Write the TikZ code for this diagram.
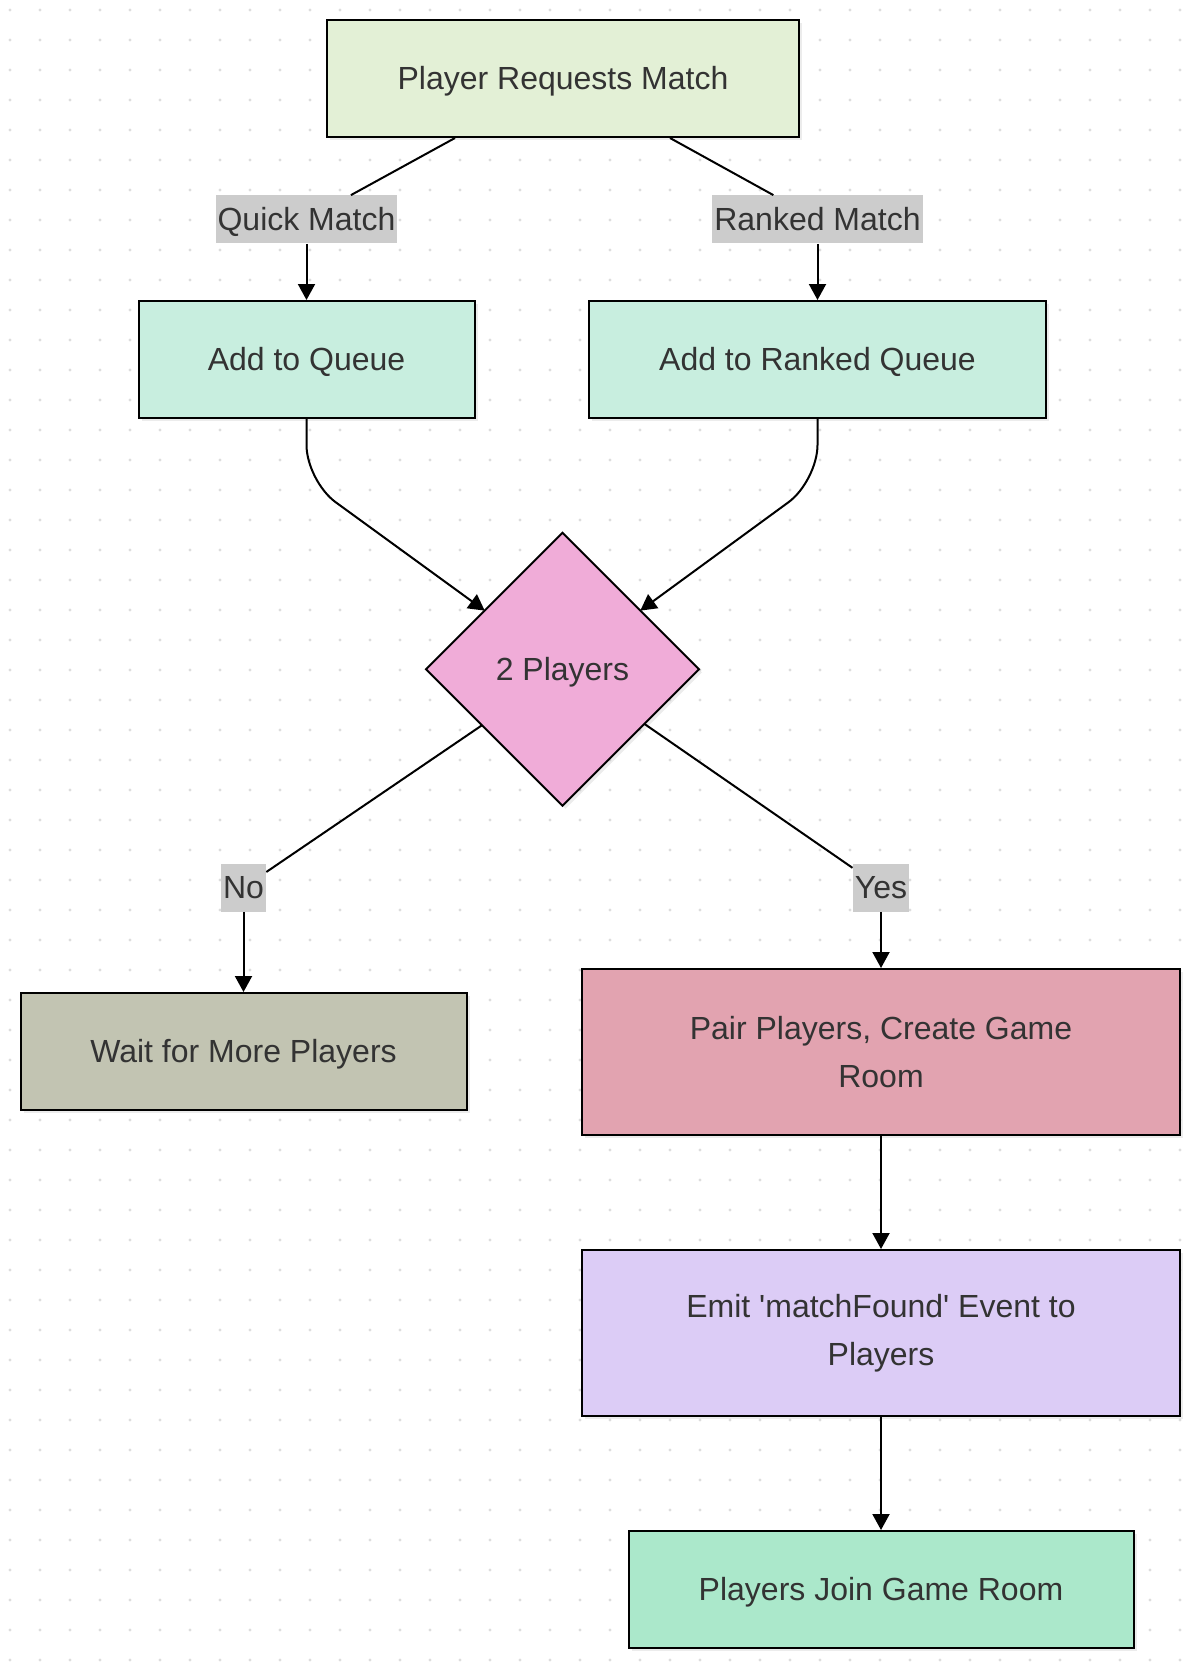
\documentclass[tikz,border=0pt]{standalone}
\usepackage{fontspec}
\setmainfont{Liberation Sans}
\usepackage{xcolor}
\usepackage{tikz}
\usetikzlibrary{shapes.geometric, arrows.meta, positioning, calc, shadows}
\definecolor{textgray}{HTML}{333333}
\definecolor{dotgray}{HTML}{DDDDDD}
\definecolor{lblgray}{HTML}{CCCCCC}
\definecolor{reqfill}{HTML}{E3F0D6}
\definecolor{queuefill}{HTML}{C8EEDF}
\definecolor{decfill}{HTML}{F0ACD8}
\definecolor{waitfill}{HTML}{C2C4B2}
\definecolor{pairfill}{HTML}{E2A3B0}
\definecolor{emitfill}{HTML}{DCCCF6}
\definecolor{joinfill}{HTML}{ABE8CB}
\tikzset{
    oneline/.style={text height=14.5pt, text depth=3.4pt},
    box/.style={rectangle, draw, line width=1pt, text=textgray, inner sep=0pt, minimum height=58.5pt, drop shadow={shadow xshift=1.5pt, shadow yshift=-1.5pt, opacity=0.15}},
    reqbox/.style={box, oneline, fill=reqfill, minimum width=236pt},
    queuebox/.style={box, oneline, fill=queuefill},
    decision/.style={diamond, draw, oneline, line width=1pt, fill=decfill, aspect=1, minimum width=136.5pt, minimum height=136.5pt, inner sep=0pt, outer sep=0pt, text=textgray, drop shadow={shadow xshift=1.5pt, shadow yshift=-1.5pt, opacity=0.15}},
    waitbox/.style={box, oneline, fill=waitfill, minimum width=223pt},
    pairbox/.style={box, fill=pairfill, minimum width=299pt, minimum height=83pt, align=center},
    emitbox/.style={box, fill=emitfill, minimum width=299pt, minimum height=83pt, align=center},
    joinbox/.style={box, oneline, fill=joinfill, minimum width=252.5pt},
    edgelabel/.style={fill=lblgray, oneline, text=textgray, inner xsep=1pt, inner ysep=0pt, minimum height=24pt},
    link/.style={line width=1pt},
    arrow/.style={-{Triangle[length=8pt, width=8.5pt]}, line width=1pt}
}

\begin{document}
\begin{tikzpicture}[x=0.5pt, y=-0.5pt, on grid, every node/.style={font=\fontsize{16pt}{24pt}\selectfont}]
    \useasboundingbox (0,0) rectangle (1203,1669);
    % dotted background
    \foreach \i in {0,...,39}
        \foreach \j in {0,...,55}
            \fill[dotgray] (10+30*\i, 10+30*\j) circle (0.8pt);

    \node (req) [reqbox] at (563,78.5) {Player Requests Match};
    \node (quicklbl) [edgelabel] at (306.5,219.5) {Quick Match};
    \node (rankedlbl) [edgelabel] at (817.5,219.5) {Ranked Match};
    \node (queue) [queuebox, minimum width=168pt, below=70pt of quicklbl] {Add to Queue};
    \node (ranked) [queuebox, minimum width=228.5pt, below=70pt of rankedlbl] {Add to Ranked Queue};
    \node (check) [decision] at (562.5,669.3) {2 Players};
    \node (nolbl) [edgelabel] at (243.5,887.5) {No};
    \node (yeslbl) [edgelabel] at (881,887.5) {Yes};
    \node (wait) [waitbox, below=82pt of nolbl] {Wait for More Players};
    \node (pair) [pairbox, below=82.25pt of yeslbl] {Pair Players, Create Game\\Room};
    \node (emit) [emitbox, below=140.5pt of pair] {Emit \textquotesingle matchFound\textquotesingle\ Event to\\Players};
    \node (join) [joinbox, below=128.25pt of emit] {Players Join Game Room};

    \draw[link] ([xshift=-54pt]req.south) -- (quicklbl);
    \draw[arrow] (quicklbl) -- (queue);
    \draw[link] ([xshift=53.5pt]req.south) -- (rankedlbl);
    \draw[arrow] (rankedlbl) -- (ranked);
    \draw[arrow, rounded corners=18pt] (queue.south) -- ([yshift=-31pt]queue.south) -- ($(check.north)!0.57!(check.west)$);
    \draw[arrow, rounded corners=18pt] (ranked.south) -- ([yshift=-31pt]ranked.south) -- ($(check.north)!0.57!(check.east)$);
    \draw[link] ($(check.west)!0.41!(check.south)$) -- (nolbl);
    \draw[arrow] (nolbl) -- (wait);
    \draw[link] ($(check.east)!0.4!(check.south)$) -- (yeslbl);
    \draw[arrow] (yeslbl) -- (pair);
    \draw[arrow] (pair) -- (emit);
    \draw[arrow] (emit) -- (join);
\end{tikzpicture}
\end{document}
